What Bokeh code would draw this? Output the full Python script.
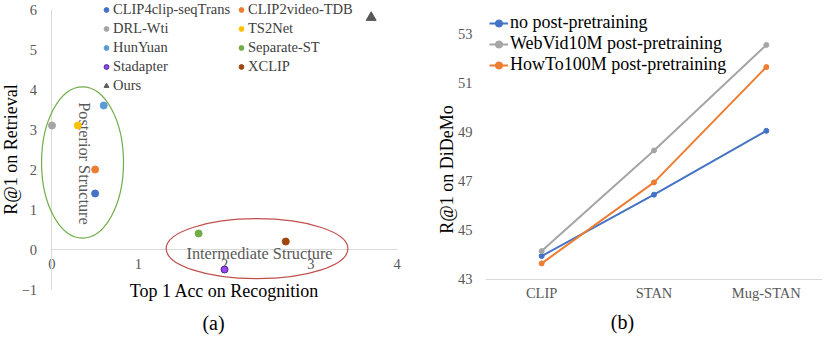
import math
from bokeh.plotting import figure
from bokeh.layouts import row
from bokeh.models import (Range1d, FactorRange, FixedTicker, Legend, LegendItem,
                          ColumnDataSource, LinearAxis, CategoricalAxis, Label)
from bokeh.core.properties import value
from bokeh.embed import file_html
from bokeh.resources import INLINE

# ---------------- data: panel (a) ----------------
models = ["CLIP4clip-seqTrans", "CLIP2video-TDB", "DRL-Wti", "TS2Net", "HunYuan",
          "Separate-ST", "Stadapter", "XCLIP", "Ours"]
recognition = [0.5, 0.5, 0.0, 0.3, 0.6, 1.7, 2.0, 2.71, 3.7]
retrieval = [1.4, 2.0, 3.1, 3.1, 3.6, 0.4, -0.5, 0.2, 5.8]
x_ticks_a = [0, 1, 2, 3, 4]
y_ticks_a = [-1, 0, 1, 2, 3, 4, 5, 6]

# ---------------- data: panel (b) ----------------
backbones = ["CLIP", "STAN", "Mug-STAN"]
no_post = [43.95, 46.45, 49.05]
webvid = [44.15, 48.25, 52.55]
howto = [43.65, 46.95, 51.65]
y_ticks_b = [43, 45, 47, 49, 51, 53]

FONT = "Liberation Serif"
TICK_C = "#595959"
AXIS_LINE = "#D9D9D9"

colors = ["#4472C4", "#ED7D31", "#A5A5A5", "#FFC000", "#5B9BD5",
          "#70AD47", "#A142F4", "#9E480E", "#595959"]


def style_axis(ax):
    ax.major_tick_line_color = None
    ax.minor_tick_line_color = None
    ax.major_tick_out = 0
    ax.major_tick_in = 0
    ax.minor_tick_out = 0
    ax.minor_tick_in = 0
    ax.major_label_text_font = FONT
    ax.major_label_text_font_size = "14.5px"
    ax.major_label_text_color = TICK_C
    ax.axis_label_text_font = FONT
    ax.axis_label_text_font_size = "18px"
    ax.axis_label_text_font_style = "normal"
    ax.axis_label_text_color = "#000000"


def make_legend(items, loc, font_size, row_h, glyph_w, standoff, color):
    lg = Legend(items=items, location=loc, orientation="vertical")
    lg.padding = 0
    lg.margin = 0
    lg.spacing = 0
    lg.glyph_width = glyph_w
    lg.glyph_height = row_h
    lg.label_height = row_h
    lg.label_standoff = standoff
    lg.label_text_font = FONT
    lg.label_text_font_size = font_size
    lg.label_text_color = color
    lg.border_line_color = None
    lg.background_fill_alpha = 0
    return lg


# ================= panel (a) =================
# the frame covers the whole canvas; axes cross at (0, 0)
p1 = figure(frame_width=420, frame_height=338,
            x_range=Range1d(-0.597, 4.272), y_range=Range1d(-2.225, 6.225),
            x_axis_location=None, y_axis_location=None,
            output_backend="svg", toolbar_location=None,
            min_border=0, outline_line_color=None)
p1.grid.visible = False

ya = LinearAxis(fixed_location=0, bounds=(-1, 6), ticker=FixedTicker(ticks=y_ticks_a))
style_axis(ya)
ya.axis_line_color = AXIS_LINE
ya.major_label_standoff = 15
ya.axis_label = "R@1 on Retrieval"
ya.axis_label_standoff = -3
ya.level = "underlay"
p1.add_layout(ya, "left")

xa = LinearAxis(fixed_location=0, bounds=(0, 4), ticker=FixedTicker(ticks=x_ticks_a))
style_axis(xa)
xa.axis_line_color = AXIS_LINE
xa.major_label_standoff = 9
xa.axis_label = "Top 1 Acc on Recognition"
xa.axis_label_standoff = 9
xa.level = "underlay"
p1.add_layout(xa, "below")

# grouping ellipses (annotation shapes)
p1.ellipse(x=[0.354], y=[2.175], width=[0.95], height=[3.78],
           fill_color=None, line_color="#70AD47", line_width=1.2)
p1.ellipse(x=[2.377], y=[0.02], width=[2.107], height=[1.5],
           fill_color=None, line_color="#C0504D", line_width=1.2)

p1.text(x=[0.377], y=[2.15], text=["Posterior Structure"], angle=-math.pi / 2,
        text_align="center", text_baseline="middle", text_font=value(FONT),
        text_font_size="16.3px", text_color="#595959")
p1.text(x=[2.406], y=[-0.10], text=["Intermediate Structure"],
        text_align="center", text_baseline="middle", text_font=value(FONT),
        text_font_size="16.3px", text_color="#595959")

rend = {}
for i, name in enumerate(models):
    src = ColumnDataSource(dict(x=[recognition[i]], y=[retrieval[i]]))
    if name == "Ours":
        r = p1.scatter("x", "y", source=src, marker="triangle", size=10,
                       fill_color=colors[i], line_color=colors[i])
    elif name == "Stadapter":
        r = p1.scatter("x", "y", source=src, marker="circle", size=7,
                       fill_color=colors[i], line_color="#3A2E8C", line_width=1)
    else:
        r = p1.scatter("x", "y", source=src, marker="circle", size=7,
                       fill_color=colors[i], line_color=colors[i])
    rend[name] = r

col1 = ["CLIP4clip-seqTrans", "DRL-Wti", "HunYuan", "Stadapter", "Ours"]
col2 = ["CLIP2video-TDB", "TS2Net", "Separate-ST", "XCLIP"]

p1.add_layout(make_legend([LegendItem(label=n, renderers=[rend[n]]) for n in col1],
                          (100, 243), "14.5px", 19, 12, 1, "#404040"))
p1.add_layout(make_legend([LegendItem(label=n, renderers=[rend[n]]) for n in col2],
                          (235, 262), "14.5px", 19, 12, 1, "#404040"))

p1.add_layout(Label(x=1.872, y=-1.84, text="(a)", text_align="center",
                    text_baseline="middle", text_font=FONT, text_font_size="20px",
                    text_color="#000000"))

# ================= panel (b) =================
p2 = figure(frame_width=337, frame_height=338,
            x_range=FactorRange(*backbones), y_range=Range1d(40.59, 54.36),
            x_axis_location=None,
            output_backend="svg", toolbar_location=None,
            min_border_left=65, min_border_right=0, min_border_top=0,
            min_border_bottom=0, outline_line_color=None)
p2.grid.visible = False
yb = p2.yaxis[0]
yb.ticker = FixedTicker(ticks=y_ticks_b)
style_axis(yb)
yb.axis_line_color = None
yb.major_label_standoff = 13
yb.axis_label = "R@1 on DiDeMo"
yb.axis_label_standoff = -2

xb = CategoricalAxis(fixed_location=y_ticks_b[0])
style_axis(xb)
xb.axis_line_color = AXIS_LINE
xb.major_label_standoff = 6
xb.level = "underlay"
p2.add_layout(xb, "below")

series = [("no post-pretraining", no_post, "#4472C4"),
          ("WebVid10M post-pretraining", webvid, "#A5A5A5"),
          ("HowTo100M post-pretraining", howto, "#ED7D31")]
items = []
for label, vals, c in series:
    src = ColumnDataSource(dict(x=backbones, y=vals))
    ln = p2.line("x", "y", source=src, line_color=c, line_width=2)
    sc = p2.scatter("x", "y", source=src, marker="circle", size=5,
                    fill_color=c, line_color=c)
    items.append(LegendItem(label=label, renderers=[ln, sc]))

p2.add_layout(make_legend(items, (4, 263), "18px", 18, 19, 2, "#000000"))

# "(b)" caption, placed relative to the middle category
stan_pos = backbones.index("STAN") + 0.5
p2.add_layout(Label(x=stan_pos, x_offset=-31.5, y=41.28, text="(b)", text_align="center",
                    text_baseline="middle", text_font=FONT, text_font_size="20px",
                    text_color="#000000"))

layout = row(p1, p2)
open("out.html", "w").write(file_html(layout, INLINE))
